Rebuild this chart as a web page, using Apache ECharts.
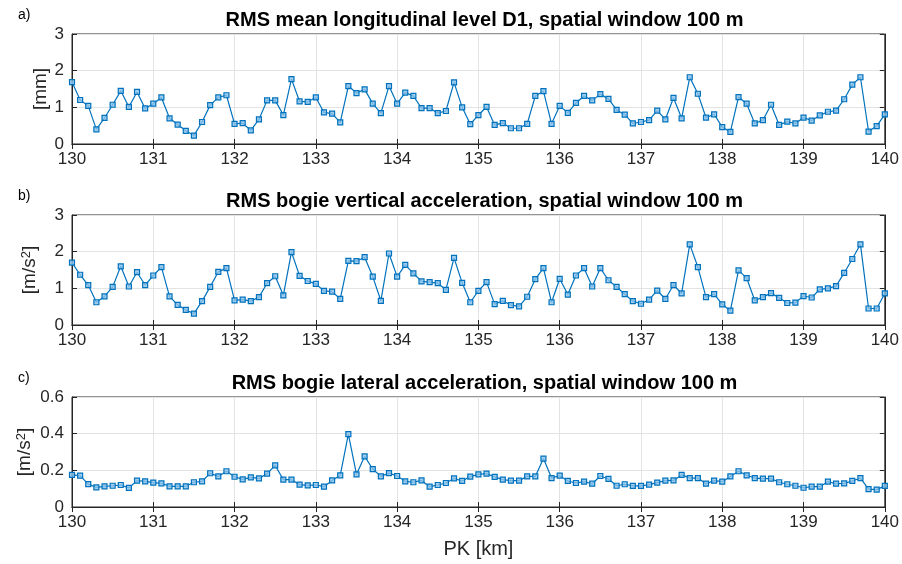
<!DOCTYPE html>
<html>
<head>
<meta charset="utf-8">
<script src="https://cdn.jsdelivr.net/npm/echarts@6/dist/echarts.min.js"></script>
<style>
  html, body { margin: 0; padding: 0; background: #fff; }
  #chart { width: 902px; height: 564px; }
</style>
</head>
<body>
<div id="chart"></div>
<script>
// Chainage (PK, km), one sample every 100 m
const pk = [
  130.0,130.1,130.2,130.3,130.4,130.5,130.6,130.7,130.8,130.9,
  131.0,131.1,131.2,131.3,131.4,131.5,131.6,131.7,131.8,131.9,
  132.0,132.1,132.2,132.3,132.4,132.5,132.6,132.7,132.8,132.9,
  133.0,133.1,133.2,133.3,133.4,133.5,133.6,133.7,133.8,133.9,
  134.0,134.1,134.2,134.3,134.4,134.5,134.6,134.7,134.8,134.9,
  135.0,135.1,135.2,135.3,135.4,135.5,135.6,135.7,135.8,135.9,
  136.0,136.1,136.2,136.3,136.4,136.5,136.6,136.7,136.8,136.9,
  137.0,137.1,137.2,137.3,137.4,137.5,137.6,137.7,137.8,137.9,
  138.0,138.1,138.2,138.3,138.4,138.5,138.6,138.7,138.8,138.9,
  139.0,139.1,139.2,139.3,139.4,139.5,139.6,139.7,139.8,139.9,
  140.0
];

// a) RMS mean longitudinal level D1 [mm]
const levelD1 = [
  1.69,1.20,1.04,0.40,0.71,1.07,1.45,1.01,1.42,0.97,
  1.10,1.27,0.70,0.53,0.36,0.23,0.60,1.06,1.27,1.33,
  0.55,0.57,0.37,0.67,1.19,1.19,0.79,1.77,1.16,1.15,
  1.27,0.86,0.83,0.59,1.58,1.39,1.49,1.10,0.84,1.58,
  1.10,1.40,1.31,0.98,0.98,0.84,0.90,1.68,1.00,0.54,
  0.79,1.01,0.52,0.57,0.43,0.43,0.55,1.31,1.44,0.55,
  1.04,0.85,1.12,1.31,1.19,1.36,1.23,0.93,0.80,0.56,
  0.60,0.65,0.91,0.67,1.26,0.70,1.82,1.37,0.72,0.81,
  0.46,0.33,1.28,1.10,0.56,0.65,1.07,0.52,0.61,0.56,
  0.72,0.64,0.78,0.88,0.91,1.22,1.62,1.82,0.34,0.49,
  0.81
];

// b) RMS bogie vertical acceleration [m/s²]
const bogieVert = [
  1.70,1.37,1.09,0.62,0.78,1.04,1.60,1.05,1.44,1.09,
  1.35,1.58,0.78,0.55,0.41,0.31,0.65,1.04,1.45,1.55,
  0.67,0.69,0.65,0.76,1.14,1.33,0.81,1.99,1.34,1.20,
  1.12,0.93,0.91,0.71,1.75,1.74,1.85,1.32,0.66,1.95,
  1.32,1.64,1.41,1.19,1.17,1.14,0.96,1.83,1.15,0.62,
  0.93,1.17,0.57,0.66,0.54,0.51,0.77,1.25,1.55,0.62,
  1.26,0.83,1.35,1.55,1.05,1.55,1.22,1.04,0.84,0.65,
  0.58,0.69,0.94,0.71,1.09,0.86,2.20,1.58,0.76,0.84,
  0.56,0.39,1.49,1.28,0.67,0.76,0.87,0.74,0.60,0.61,
  0.79,0.75,0.97,1.00,1.06,1.42,1.80,2.20,0.45,0.45,
  0.86
];

// c) RMS bogie lateral acceleration [m/s²]
const bogieLat = [
  0.175,0.171,0.125,0.107,0.113,0.116,0.120,0.104,0.144,0.140,
  0.133,0.129,0.113,0.113,0.113,0.135,0.140,0.184,0.167,0.195,
  0.165,0.151,0.162,0.156,0.182,0.227,0.149,0.149,0.122,0.118,
  0.120,0.111,0.145,0.173,0.398,0.178,0.276,0.207,0.167,0.185,
  0.169,0.140,0.135,0.145,0.111,0.120,0.131,0.156,0.142,0.166,
  0.178,0.182,0.164,0.149,0.144,0.144,0.167,0.167,0.264,0.158,
  0.171,0.142,0.131,0.138,0.127,0.169,0.153,0.116,0.124,0.115,
  0.115,0.122,0.133,0.144,0.145,0.175,0.158,0.158,0.127,0.144,
  0.138,0.167,0.195,0.173,0.158,0.155,0.155,0.135,0.124,0.116,
  0.105,0.111,0.111,0.138,0.127,0.129,0.142,0.158,0.098,0.095,
  0.115
];

const titles = [
  'RMS mean longitudinal level D1, spatial window 100 m',
  'RMS bogie vertical acceleration, spatial window 100 m',
  'RMS bogie lateral acceleration, spatial window 100 m'
];
const panelTags = ['a)', 'b)', 'c)'];
const yNames = ['[mm]', '[m/s{sup|2}]', '[m/s{sup|2}]'];
const yRanges = [[0, 3, 1], [0, 3, 1], [0, 0.6, 0.2]];
const seriesList = [levelD1, bogieVert, bogieLat];

const FONT = 'Liberation Sans, Arial, Helvetica, sans-serif';
const INK = '#262626';
const LINE = '#0072BD';
const gridTops = [34, 215, 397];
const plotH = 110;
const plotLeft = 72;
const plotRight = 15;
const nameGaps = [22, 33, 38];

const grids = [], xAxes = [], yAxes = [], series = [], titleOpts = [];

gridTops.forEach((top, i) => {
  grids.push({
    left: plotLeft, right: plotRight, top: top, height: plotH,
    show: true, borderColor: INK, borderWidth: 1, backgroundColor: '#fff'
  });
  const yr = yRanges[i];
  // bottom x axis with labels
  xAxes.push({
    type: 'value', gridIndex: i, min: 130, max: 140, interval: 1,
    position: 'bottom',
    axisLine: { show: true, lineStyle: { color: INK, width: 1 } },
    axisTick: { show: true, inside: true, length: 5, lineStyle: { color: INK } },
    axisLabel: { color: INK, fontSize: 17, fontFamily: FONT, margin: 7 },
    splitLine: { show: true, lineStyle: { color: '#e3e3e3', width: 1 } },
    name: i === 2 ? 'PK [km]' : '',
    nameLocation: 'middle', nameGap: 32, nameMoveOverlap: false,
    nameTextStyle: { color: INK, fontSize: 20, fontFamily: FONT }
  });
  // top x axis: ticks only (box style)
  xAxes.push({
    type: 'value', gridIndex: i, min: 130, max: 140, interval: 1,
    position: 'top',
    axisLine: { show: true, lineStyle: { color: INK, width: 1 } },
    axisTick: { show: true, inside: true, length: 5, lineStyle: { color: INK } },
    axisLabel: { show: false }, splitLine: { show: false }
  });
  // left y axis with labels
  yAxes.push({
    type: 'value', gridIndex: i, min: yr[0], max: yr[1], interval: yr[2],
    position: 'left',
    axisLine: { show: true, lineStyle: { color: INK, width: 1 } },
    axisTick: { show: true, inside: true, length: 5, lineStyle: { color: INK } },
    axisLabel: { color: INK, fontSize: 17, fontFamily: FONT, margin: 8 },
    splitLine: { show: true, lineStyle: { color: '#e3e3e3', width: 1 } },
    name: yNames[i], nameLocation: 'middle', nameRotate: 90,
    nameGap: nameGaps[i], nameMoveOverlap: false,
    nameTextStyle: {
      color: INK, fontSize: 19, fontFamily: FONT,
      rich: { sup: { fontSize: 13, verticalAlign: 'top', lineHeight: 12, padding: [0, 0, 10, 0], color: INK, fontFamily: FONT } }
    }
  });
  // right y axis: ticks only (box style)
  yAxes.push({
    type: 'value', gridIndex: i, min: yr[0], max: yr[1], interval: yr[2],
    position: 'right',
    axisLine: { show: true, lineStyle: { color: INK, width: 1 } },
    axisTick: { show: true, inside: true, length: 5, lineStyle: { color: INK } },
    axisLabel: { show: false }, splitLine: { show: false }
  });

  const vals = seriesList[i];
  series.push({
    type: 'line',
    xAxisIndex: i * 2, yAxisIndex: i * 2,
    data: pk.map((x, k) => [x, vals[k]]),
    symbol: 'rect', symbolSize: 5,
    showAllSymbol: true,
    lineStyle: { color: LINE, width: 1.2 },
    itemStyle: { color: 'rgba(140,195,235,0.8)', borderColor: LINE, borderWidth: 1.2 },
    emphasis: { disabled: true },
    animation: false,
    z: 3
  });

  titleOpts.push({
    text: titles[i],
    left: plotLeft + (902 - plotLeft - plotRight) / 2,
    textAlign: 'center',
    top: top - 29,
    textStyle: { color: '#000', fontSize: 20, fontWeight: 'bold', fontFamily: FONT }
  });
  titleOpts.push({
    text: panelTags[i],
    left: 13,
    top: top - 31,
    textStyle: { color: '#000', fontSize: 14, fontWeight: 'normal', fontFamily: FONT }
  });
});

const chart = echarts.init(document.getElementById('chart'), null, { renderer: 'canvas' });
chart.setOption({
  backgroundColor: '#fff',
  animation: false,
  title: titleOpts,
  grid: grids,
  xAxis: xAxes,
  yAxis: yAxes,
  series: series
});
</script>
</body>
</html>
